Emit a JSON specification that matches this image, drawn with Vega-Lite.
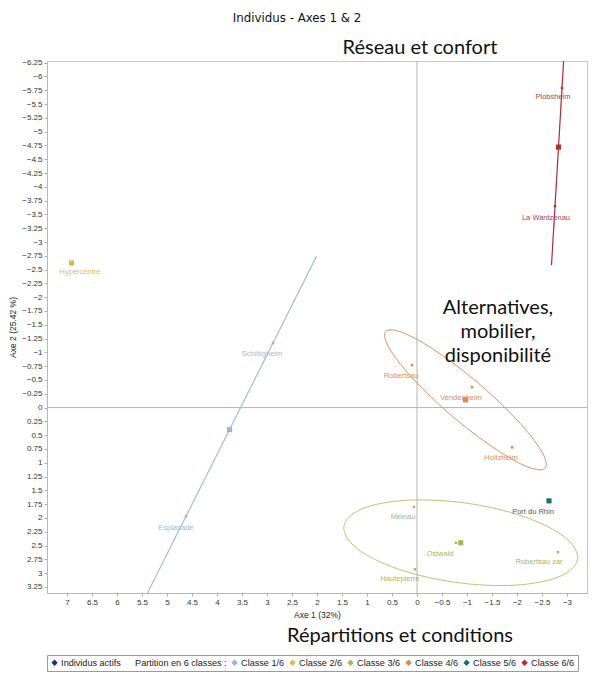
{
  "$schema": "https://vega.github.io/schema/vega-lite/v6.json",
  "width": 540,
  "height": 532,
  "autosize": {"type": "none"},
  "padding": {"left": 47, "top": 61, "right": 10, "bottom": 82},
  "background": "white",
  "title": {"text": "Individus - Axes 1 & 2", "anchor": "middle", "dx": -20, "offset": 14, "fontSize": 11.8, "font": "DejaVu Sans", "fontWeight": "normal", "color": "#111"},
  "datasets": {
    "individus": [
      {"nom": "Schiltigheim", "classe": "Classe 1/6", "x": 2.88, "y": -1.17, "lx": 3.10, "ly": -0.97},
      {"nom": "Esplanade", "classe": "Classe 1/6", "x": 4.62, "y": 1.97, "lx": 4.82, "ly": 2.18},
      {"nom": "Hypercentre", "classe": "Classe 2/6", "x": 6.91, "y": -2.62, "lx": 6.74, "ly": -2.45},
      {"nom": "Meinau", "classe": "Classe 3/6", "x": 0.06, "y": 1.80, "lx": 0.28, "ly": 1.98},
      {"nom": "Ostwald", "classe": "Classe 3/6", "x": -0.78, "y": 2.45, "lx": -0.46, "ly": 2.65},
      {"nom": "Robertsau zar", "classe": "Classe 3/6", "x": -2.82, "y": 2.62, "lx": -2.44, "ly": 2.80},
      {"nom": "Hautepierre", "classe": "Classe 3/6", "x": 0.04, "y": 2.93, "lx": 0.34, "ly": 3.11},
      {"nom": "Robertsau", "classe": "Classe 4/6", "x": 0.10, "y": -0.77, "lx": 0.32, "ly": -0.57},
      {"nom": "Vendenheim", "classe": "Classe 4/6", "x": -1.10, "y": -0.37, "lx": -0.88, "ly": -0.17},
      {"nom": "Holtzheim", "classe": "Classe 4/6", "x": -1.90, "y": 0.72, "lx": -1.68, "ly": 0.92},
      {"nom": "Port du Rhin", "classe": "Classe 5/6", "x": -2.64, "y": 1.69, "lx": -2.32, "ly": 1.89},
      {"nom": "Plobsheim", "classe": "Classe 6/6", "x": -2.90, "y": -5.79, "lx": -2.72, "ly": -5.63},
      {"nom": "La Wantzenau", "classe": "Classe 6/6", "x": -2.76, "y": -3.65, "lx": -2.58, "ly": -3.43}
    ],
    "centres": [
      {"classe": "Classe 1/6", "x": 3.75, "y": 0.40},
      {"classe": "Classe 2/6", "x": 6.91, "y": -2.62},
      {"classe": "Classe 3/6", "x": -0.875, "y": 2.45},
      {"classe": "Classe 4/6", "x": -0.97, "y": -0.14},
      {"classe": "Classe 5/6", "x": -2.64, "y": 1.69},
      {"classe": "Classe 6/6", "x": -2.83, "y": -4.72}
    ],
    "segments": [
      {"classe": "Classe 1/6", "ordre": 1, "x": 2.01, "y": -2.74},
      {"classe": "Classe 1/6", "ordre": 2, "x": 5.49, "y": 3.54},
      {"classe": "Classe 6/6", "ordre": 1, "x": -2.97, "y": -6.86},
      {"classe": "Classe 6/6", "ordre": 2, "x": -2.69, "y": -2.58}
    ],
    "ellipses": [
      {"classe": "Classe 4/6", "ordre": 0, "x": -2.566, "y": 1.097},
      {"classe": "Classe 4/6", "ordre": 1, "x": -2.488, "y": 0.786},
      {"classe": "Classe 4/6", "ordre": 2, "x": -2.004, "y": 0.228},
      {"classe": "Classe 4/6", "ordre": 3, "x": -1.243, "y": -0.429},
      {"classe": "Classe 4/6", "ordre": 4, "x": -0.408, "y": -1.007},
      {"classe": "Classe 4/6", "ordre": 5, "x": 0.276, "y": -1.355},
      {"classe": "Classe 4/6", "ordre": 6, "x": 0.626, "y": -1.376},
      {"classe": "Classe 4/6", "ordre": 7, "x": 0.548, "y": -1.065},
      {"classe": "Classe 4/6", "ordre": 8, "x": 0.064, "y": -0.507},
      {"classe": "Classe 4/6", "ordre": 9, "x": -0.697, "y": 0.150},
      {"classe": "Classe 4/6", "ordre": 10, "x": -1.532, "y": 0.728},
      {"classe": "Classe 4/6", "ordre": 11, "x": -2.216, "y": 1.076},
      {"classe": "Classe 3/6", "ordre": 0, "x": -3.211, "y": 2.746},
      {"classe": "Classe 3/6", "ordre": 1, "x": -2.954, "y": 2.348},
      {"classe": "Classe 3/6", "ordre": 2, "x": -2.139, "y": 1.976},
      {"classe": "Classe 3/6", "ordre": 3, "x": -0.986, "y": 1.732},
      {"classe": "Classe 3/6", "ordre": 4, "x": 0.197, "y": 1.679},
      {"classe": "Classe 3/6", "ordre": 5, "x": 1.092, "y": 1.833},
      {"classe": "Classe 3/6", "ordre": 6, "x": 1.461, "y": 2.152},
      {"classe": "Classe 3/6", "ordre": 7, "x": 1.204, "y": 2.551},
      {"classe": "Classe 3/6", "ordre": 8, "x": 0.390, "y": 2.922},
      {"classe": "Classe 3/6", "ordre": 9, "x": -0.764, "y": 3.167},
      {"classe": "Classe 3/6", "ordre": 10, "x": -1.946, "y": 3.219},
      {"classe": "Classe 3/6", "ordre": 11, "x": -2.842, "y": 3.065}
    ],
    "axes0": [
      {"x": 0, "y": -6.28, "x2": 0, "y2": 3.36},
      {"x": -3.4, "y": 0, "x2": 7.4, "y2": 0}
    ],
    "notes": [
      {"texte": "Réseau et confort", "x": -0.06, "y": -6.51},
      {"texte": "Alternatives,", "x": -1.62, "y": -1.80},
      {"texte": "mobilier,", "x": -1.62, "y": -1.37},
      {"texte": "disponibilité", "x": -1.62, "y": -0.93},
      {"texte": "Répartitions et conditions", "x": 0.34, "y": 4.14}
    ]
  },
  "encoding": {
    "x": {
      "field": "x", "type": "quantitative", "title": "Axe 1 (32%)",
      "scale": {"domain": [-3.4, 7.4], "reverse": true, "nice": false, "zero": false},
      "axis": {"values": [-3, -2.5, -2, -1.5, -1, -0.5, 0, 0.5, 1, 1.5, 2, 2.5, 3, 3.5, 4, 4.5, 5, 5.5, 6, 6.5, 7], "format": ".1~f", "labelPadding": 2, "titlePadding": 4, "labelFlush": false, "labelOverlap": false}
    },
    "y": {
      "field": "y", "type": "quantitative", "title": "Axe 2 (25.42 %)",
      "scale": {"domain": [-6.28, 3.36], "reverse": true, "nice": false, "zero": false},
      "axis": {"values": [-6.25, -6, -5.75, -5.5, -5.25, -5, -4.75, -4.5, -4.25, -4, -3.75, -3.5, -3.25, -3, -2.75, -2.5, -2.25, -2, -1.75, -1.5, -1.25, -1, -0.75, -0.5, -0.25, 0, 0.25, 0.5, 0.75, 1, 1.25, 1.5, 1.75, 2, 2.25, 2.5, 2.75, 3, 3.25], "format": ".2~f", "labelPadding": 2, "titlePadding": 4, "labelFlush": false, "labelOverlap": false}
    }
  },
  "layer": [
    {
      "data": {"name": "axes0"},
      "mark": {"type": "rule", "color": "#b4b4b4", "strokeWidth": 1},
      "encoding": {"x2": {"field": "x2"}, "y2": {"field": "y2"}}
    },
    {
      "data": {"name": "segments"},
      "mark": {"type": "line", "clip": true, "strokeWidth": 1.2},
      "encoding": {
        "stroke": {"field": "classe", "type": "nominal", "legend": null,
          "scale": {"domain": ["Classe 1/6", "Classe 3/6", "Classe 4/6", "Classe 6/6"], "range": ["#a6bcd6", "#bcc474", "#d4935f", "#b0283a"]}},
        "order": {"field": "ordre", "type": "quantitative"}
      }
    },
    {
      "data": {"name": "ellipses"},
      "mark": {"type": "line", "clip": true, "strokeWidth": 1, "interpolate": "cardinal-closed"},
      "encoding": {
        "stroke": {"field": "classe", "type": "nominal", "legend": null,
          "scale": {"domain": ["Classe 1/6", "Classe 3/6", "Classe 4/6", "Classe 6/6"], "range": ["#a6bcd6", "#bcc474", "#d4935f", "#b0283a"]}},
        "order": {"field": "ordre", "type": "quantitative"}
      }
    },
    {
      "data": {"name": "centres"},
      "mark": {"type": "point", "filled": true, "size": 26, "opacity": 1, "shape": "square"},
      "encoding": {
        "color": {"field": "classe", "type": "nominal",
          "scale": {"domain": ["Individus actifs", "Partition en 6 classes :", "Classe 1/6", "Classe 2/6", "Classe 3/6", "Classe 4/6", "Classe 5/6", "Classe 6/6"],
                    "range": ["#1f2f8f", "#ffffff", "#92b5d8", "#dcbc3c", "#a4b84c", "#e08840", "#127070", "#c02830"]},
          "legend": {
            "title": null, "orient": "bottom", "direction": "horizontal", "offset": 36,
            "symbolType": "diamond", "symbolSize": 40, "symbolStrokeWidth": 0,
            "labelFont": "Liberation Sans", "labelFontSize": 9.1, "labelColor": "#222", "labelOffset": 2,
            "columnPadding": 3, "strokeColor": "#9a9a9a", "padding": 3,
            "encode": {"symbols": {"update": {
              "shape": {"value": "diamond"},
              "size": {"value": 40},
              "opacity": {"signal": "datum.value === 'Partition en 6 classes :' ? 0 : 1"}
            }}}
          }
        }
      }
    },
    {
      "data": {"name": "individus"},
      "mark": {"type": "point", "filled": true, "size": 6, "opacity": 1, "shape": "square"},
      "encoding": {
        "color": {"field": "classe", "type": "nominal"}
      }
    },
    {
      "data": {"name": "individus"},
      "mark": {"type": "text", "font": "Liberation Sans", "fontSize": 7.5, "align": "center", "baseline": "middle"},
      "encoding": {
        "x": {"field": "lx", "type": "quantitative", "title": "Axe 1 (32%)"},
        "y": {"field": "ly", "type": "quantitative", "title": "Axe 2 (25.42 %)"},
        "text": {"field": "nom"},
        "fill": {"field": "classe", "type": "nominal", "legend": null,
          "scale": {"domain": ["Classe 1/6", "Classe 2/6", "Classe 3/6", "Classe 4/6", "Classe 5/6", "Classe 6/6"],
                    "range": ["#a2bcda", "#d8c25a", "#a6b66a", "#d8905a", "#2a6a70", "#a04858"]}}
      }
    },
    {
      "data": {"name": "notes"},
      "mark": {"type": "text", "font": "Lato", "fontSize": 20, "align": "center", "baseline": "middle", "color": "#111", "clip": false},
      "encoding": {"text": {"field": "texte"}}
    }
  ],
  "config": {
    "view": {"stroke": "#c8c8c8"},
    "axis": {
      "labelFont": "Liberation Sans", "labelFontSize": 8, "labelColor": "#333",
      "titleFont": "Liberation Sans", "titleFontSize": 8.5, "titleFontWeight": "normal", "titleColor": "#222",
      "domainColor": "#b8b8b8", "tickColor": "#b0b0b0", "tickSize": 3, "grid": false
    }
  }
}
